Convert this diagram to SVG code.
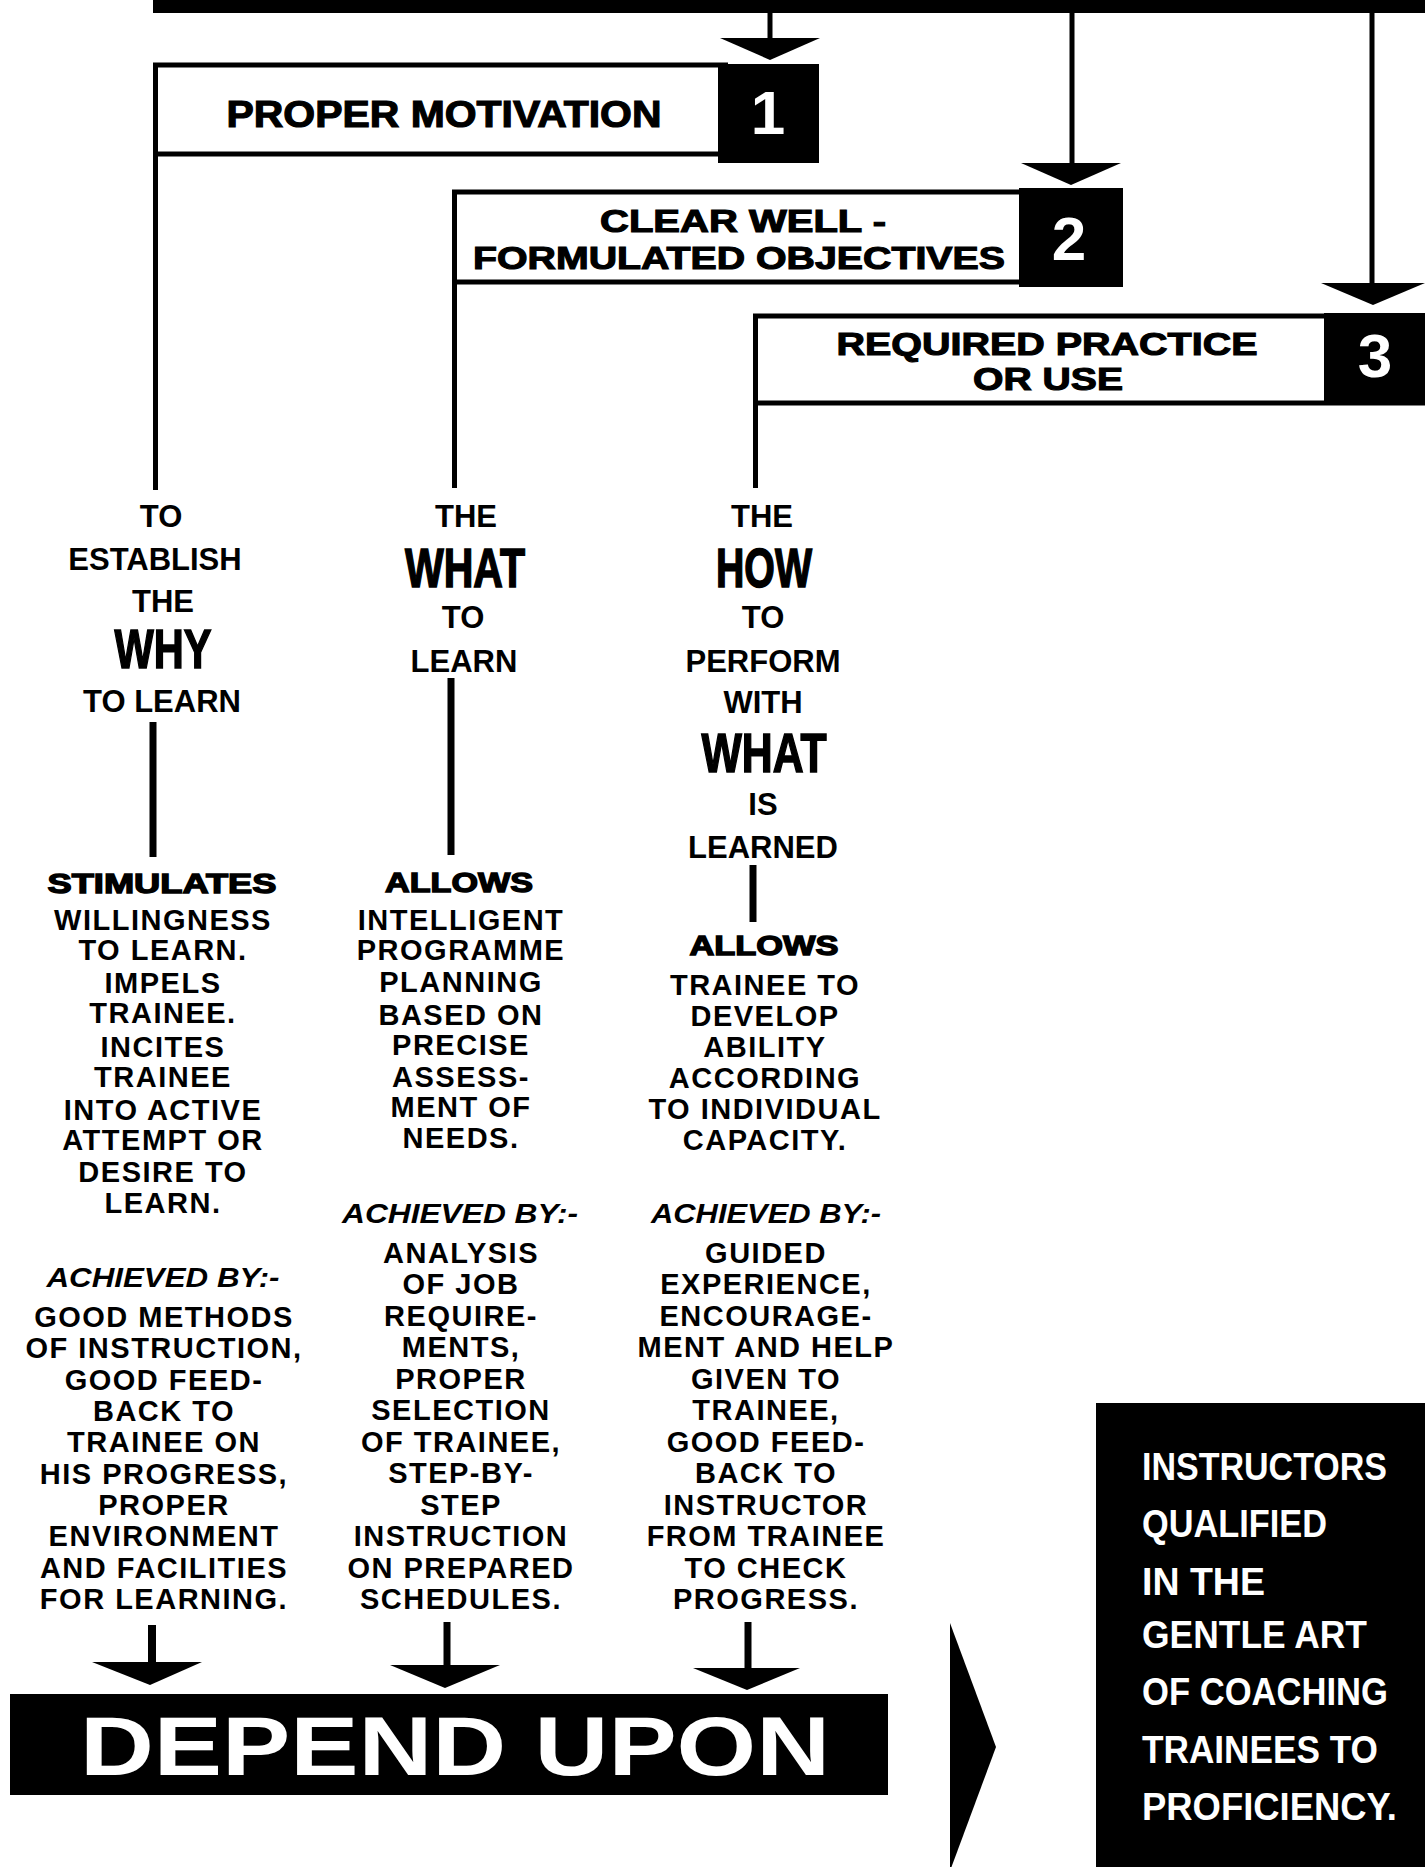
<svg xmlns="http://www.w3.org/2000/svg" width="1425" height="1867" viewBox="0 0 1425 1867">
<style>
text{font-family:"Liberation Sans",Arial,sans-serif;font-weight:bold;fill:#000;text-anchor:middle}
.h{font-size:31px}
.big{font-size:56px;stroke:#000;stroke-width:1.6px}
.b{font-size:29px;letter-spacing:1.5px}
.hv{font-size:28px;stroke:#000;stroke-width:1.4px}
.it{font-size:28px;font-style:italic}
.bx{font-size:32px;stroke:#000;stroke-width:1.1px}
.num{font-size:62px;fill:#fff}
.wt{fill:#fff;text-anchor:start}
.ln{stroke:#000;fill:none}
</style>
<defs>
<polygon id="ah" points="-50,0 50,0 0,22" fill="#000"/>
</defs>
<rect width="1425" height="1867" fill="#fff"/>

<g id="connectors">
<rect x="153" y="0" width="1272" height="13" fill="#000"/>
<line class="ln" x1="770" y1="10" x2="770" y2="40" stroke-width="5"/>
<use href="#ah" x="770" y="38"/>
<line class="ln" x1="1072" y1="10" x2="1072" y2="165" stroke-width="5"/>
<use href="#ah" x="1071" y="163"/>
<line class="ln" x1="1372" y1="10" x2="1372" y2="285" stroke-width="5"/>
<polygon points="1321,283 1425,283 1373,305" fill="#000"/>
<line class="ln" x1="155.5" y1="155" x2="155.5" y2="490" stroke-width="5"/>
<line class="ln" x1="454.5" y1="284" x2="454.5" y2="488" stroke-width="5"/>
<line class="ln" x1="755.5" y1="404" x2="755.5" y2="488" stroke-width="5"/>
<line class="ln" x1="153" y1="722" x2="153" y2="857" stroke-width="7"/>
<line class="ln" x1="451" y1="678" x2="451" y2="855" stroke-width="7"/>
<line class="ln" x1="753" y1="865" x2="753" y2="922" stroke-width="7"/>
<line class="ln" x1="152" y1="1625" x2="152" y2="1666" stroke-width="8"/>
<polygon points="92,1662 202,1662 150,1685" fill="#000"/>
<line class="ln" x1="447" y1="1622" x2="447" y2="1668" stroke-width="7"/>
<polygon points="390,1665 500,1665 445,1688" fill="#000"/>
<line class="ln" x1="748" y1="1622" x2="748" y2="1670" stroke-width="7"/>
<polygon points="693,1668 800,1668 747,1690" fill="#000"/>
<polygon points="950,1623 996,1747 950,1871" fill="#000"/>
</g>

<g id="box1">
<rect x="155.5" y="65" width="570" height="89" fill="#fff" stroke="#000" stroke-width="5"/>
<rect x="718" y="64" width="101" height="99" fill="#000"/>
<text class="bx" x="444" y="127" style="font-size:36px" textLength="435" lengthAdjust="spacingAndGlyphs">PROPER MOTIVATION</text>
<text class="num" x="768" y="134">1</text>
</g>

<g id="box2">
<rect x="454.5" y="192" width="570" height="90" fill="#fff" stroke="#000" stroke-width="5"/>
<rect x="1019" y="188" width="104" height="99" fill="#000"/>
<text class="bx" x="743" y="232" style="font-size:31px" textLength="286" lengthAdjust="spacingAndGlyphs">CLEAR WELL -</text>
<text class="bx" x="739" y="269" style="font-size:31px" textLength="532" lengthAdjust="spacingAndGlyphs">FORMULATED OBJECTIVES</text>
<text class="num" x="1069" y="260">2</text>
</g>

<g id="box3">
<rect x="755.5" y="316" width="680" height="87" fill="#fff" stroke="#000" stroke-width="5"/>
<rect x="1324" y="313" width="101" height="92" fill="#000"/>
<text class="bx" x="1047" y="355" textLength="421" lengthAdjust="spacingAndGlyphs">REQUIRED PRACTICE</text>
<text class="bx" x="1048" y="390" textLength="150" lengthAdjust="spacingAndGlyphs">OR USE</text>
<text class="num" x="1375" y="377">3</text>
</g>

<g id="why">
<text class="h" x="161" y="527">TO</text>
<text class="h" x="155" y="570">ESTABLISH</text>
<text class="h" x="163" y="612">THE</text>
<text class="big" x="163" y="668" textLength="97" lengthAdjust="spacingAndGlyphs">WHY</text>
<text class="h" x="162" y="712">TO LEARN</text>
</g>

<g id="what">
<text class="h" x="466" y="527">THE</text>
<text class="big" x="465" y="587" textLength="120" lengthAdjust="spacingAndGlyphs">WHAT</text>
<text class="h" x="463" y="628">TO</text>
<text class="h" x="464" y="672">LEARN</text>
</g>

<g id="how">
<text class="h" x="762" y="527">THE</text>
<text class="big" x="764" y="587" textLength="96" lengthAdjust="spacingAndGlyphs">HOW</text>
<text class="h" x="763" y="628">TO</text>
<text class="h" x="763" y="672">PERFORM</text>
<text class="h" x="763" y="713">WITH</text>
<text class="big" x="764" y="772" textLength="125" lengthAdjust="spacingAndGlyphs">WHAT</text>
<text class="h" x="763" y="815">IS</text>
<text class="h" x="763" y="858">LEARNED</text>
</g>

<g id="stimulates">
<text class="hv" x="162" y="893" textLength="229" lengthAdjust="spacingAndGlyphs">STIMULATES</text>
<text class="b" x="163" y="930">WILLINGNESS</text>
<text class="b" x="163" y="960">TO LEARN.</text>
<text class="b" x="163" y="993">IMPELS</text>
<text class="b" x="163" y="1023">TRAINEE.</text>
<text class="b" x="163" y="1057">INCITES</text>
<text class="b" x="163" y="1087">TRAINEE</text>
<text class="b" x="163" y="1120">INTO ACTIVE</text>
<text class="b" x="163" y="1150">ATTEMPT OR</text>
<text class="b" x="163" y="1182">DESIRE TO</text>
<text class="b" x="163" y="1213">LEARN.</text>
</g>

<g id="achieved1">
<text class="it" x="163" y="1287" textLength="233" lengthAdjust="spacingAndGlyphs">ACHIEVED BY:-</text>
<text class="b" x="164" y="1327">GOOD METHODS</text>
<text class="b" x="164" y="1358">OF INSTRUCTION,</text>
<text class="b" x="164" y="1390">GOOD FEED-</text>
<text class="b" x="164" y="1421">BACK TO</text>
<text class="b" x="164" y="1452">TRAINEE ON</text>
<text class="b" x="164" y="1484">HIS PROGRESS,</text>
<text class="b" x="164" y="1515">PROPER</text>
<text class="b" x="164" y="1546">ENVIRONMENT</text>
<text class="b" x="164" y="1578">AND FACILITIES</text>
<text class="b" x="164" y="1609">FOR LEARNING.</text>
</g>

<g id="allows2">
<text class="hv" x="459" y="892" textLength="148" lengthAdjust="spacingAndGlyphs">ALLOWS</text>
<text class="b" x="461" y="930">INTELLIGENT</text>
<text class="b" x="461" y="960">PROGRAMME</text>
<text class="b" x="461" y="992">PLANNING</text>
<text class="b" x="461" y="1025">BASED ON</text>
<text class="b" x="461" y="1055">PRECISE</text>
<text class="b" x="461" y="1087">ASSESS-</text>
<text class="b" x="461" y="1117">MENT OF</text>
<text class="b" x="461" y="1148">NEEDS.</text>
</g>

<g id="achieved2">
<text class="it" x="460" y="1223" textLength="236" lengthAdjust="spacingAndGlyphs">ACHIEVED BY:-</text>
<text class="b" x="461" y="1263">ANALYSIS</text>
<text class="b" x="461" y="1294">OF JOB</text>
<text class="b" x="461" y="1326">REQUIRE-</text>
<text class="b" x="461" y="1357">MENTS,</text>
<text class="b" x="461" y="1389">PROPER</text>
<text class="b" x="461" y="1420">SELECTION</text>
<text class="b" x="461" y="1452">OF TRAINEE,</text>
<text class="b" x="461" y="1483">STEP-BY-</text>
<text class="b" x="461" y="1515">STEP</text>
<text class="b" x="461" y="1546">INSTRUCTION</text>
<text class="b" x="461" y="1578">ON PREPARED</text>
<text class="b" x="461" y="1609">SCHEDULES.</text>
</g>

<g id="allows3">
<text class="hv" x="764" y="955" textLength="149" lengthAdjust="spacingAndGlyphs">ALLOWS</text>
<text class="b" x="765" y="995">TRAINEE TO</text>
<text class="b" x="765" y="1026">DEVELOP</text>
<text class="b" x="765" y="1057">ABILITY</text>
<text class="b" x="765" y="1088">ACCORDING</text>
<text class="b" x="765" y="1119">TO INDIVIDUAL</text>
<text class="b" x="765" y="1150">CAPACITY.</text>
</g>

<g id="achieved3">
<text class="it" x="766" y="1223" textLength="230" lengthAdjust="spacingAndGlyphs">ACHIEVED BY:-</text>
<text class="b" x="766" y="1263">GUIDED</text>
<text class="b" x="766" y="1294">EXPERIENCE,</text>
<text class="b" x="766" y="1326">ENCOURAGE-</text>
<text class="b" x="766" y="1357">MENT AND HELP</text>
<text class="b" x="766" y="1389">GIVEN TO</text>
<text class="b" x="766" y="1420">TRAINEE,</text>
<text class="b" x="766" y="1452">GOOD FEED-</text>
<text class="b" x="766" y="1483">BACK TO</text>
<text class="b" x="766" y="1515">INSTRUCTOR</text>
<text class="b" x="766" y="1546">FROM TRAINEE</text>
<text class="b" x="766" y="1578">TO CHECK</text>
<text class="b" x="766" y="1609">PROGRESS.</text>
</g>

<g id="depend">
<rect x="10" y="1694" width="878" height="101" fill="#000"/>
<text class="wt" x="80" y="1775" style="font-size:84px" textLength="750" lengthAdjust="spacingAndGlyphs">DEPEND UPON</text>
</g>

<g id="instructors">
<rect x="1096" y="1403" width="329" height="464" fill="#000"/>
<text class="wt" x="1142" y="1480" style="font-size:39px" textLength="245" lengthAdjust="spacingAndGlyphs">INSTRUCTORS</text>
<text class="wt" x="1142" y="1537" style="font-size:39px" textLength="185" lengthAdjust="spacingAndGlyphs">QUALIFIED</text>
<text class="wt" x="1142" y="1595" style="font-size:39px" textLength="123" lengthAdjust="spacingAndGlyphs">IN THE</text>
<text class="wt" x="1142" y="1648" style="font-size:39px" textLength="225" lengthAdjust="spacingAndGlyphs">GENTLE ART</text>
<text class="wt" x="1142" y="1705" style="font-size:39px" textLength="246" lengthAdjust="spacingAndGlyphs">OF COACHING</text>
<text class="wt" x="1142" y="1763" style="font-size:39px" textLength="236" lengthAdjust="spacingAndGlyphs">TRAINEES TO</text>
<text class="wt" x="1142" y="1820" style="font-size:39px" textLength="255" lengthAdjust="spacingAndGlyphs">PROFICIENCY.</text>
</g>
</svg>
